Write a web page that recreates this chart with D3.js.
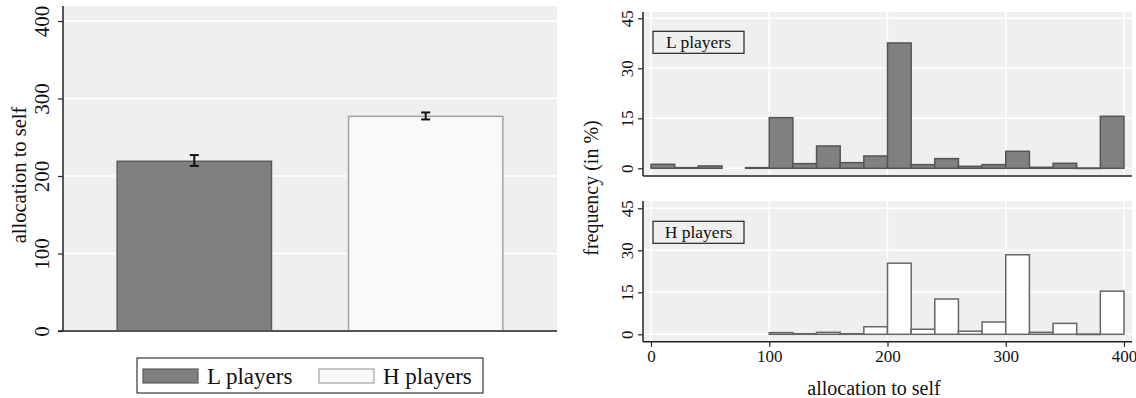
<!DOCTYPE html>
<html>
<head>
<meta charset="utf-8">
<title>Allocation to self</title>
<script src="https://cdn.jsdelivr.net/npm/d3@7"></script>
<style>
  body { margin: 0; background: #fff; }
</style>
</head>
<body>
<svg id="chart" width="1136" height="398" font-family="Liberation Serif"></svg>
<script>
// left panel: mean allocation to self with CI
var groups = ['L players', 'H players'];
var means = [219, 277];
var ciLow = [213, 273];
var ciHigh = [227, 282];
var leftTicks = [0, 100, 200, 300, 400];

// right panels: histogram of allocation to self, bins of 20
var binStarts = [0, 20, 40, 60, 80, 100, 120, 140, 160, 180, 200, 220, 240, 260, 280, 300, 320, 340, 360, 380];
var freqL = [1.2, 0.2, 0.7, null, 0.2, 15.2, 1.4, 6.7, 1.7, 3.7, 37.6, 1.1, 2.9, 0.6, 1.1, 5.1, 0.3, 1.5, 0.1, 15.6];
var freqH = [null, null, null, null, null, 0.6, 0.2, 0.7, 0.2, 2.7, 25.4, 1.8, 12.6, 1.1, 4.4, 28.4, 0.7, 3.9, 0.1, 15.4];
var freqTicks = [0, 15, 30, 45];
var allocTicks = [0, 100, 200, 300, 400];

var fills = { 'L players': '#808080', 'H players': '#f9f9f9' };
var strokes = { 'L players': '#5c5c5c', 'H players': '#a3a3a3' };

var svg = d3.select('#chart');

// ---------- left panel ----------
var L = { x0: 63, x1: 557, top: 6, base: 331 };
var x = d3.scaleBand().domain(groups).range([L.x0, L.x1]).paddingInner(0.333).paddingOuter(0.234);
var y = d3.scaleLinear().domain([0, 400]).range([L.base, 21]);

svg.append('rect').attr('x', L.x0).attr('y', L.top).attr('width', L.x1 - L.x0).attr('height', L.base - L.top)
  .attr('fill', '#efefef');

svg.append('g').selectAll('line').data(leftTicks.slice(1)).join('line')
  .attr('x1', L.x0).attr('x2', L.x1).attr('y1', d => y(d)).attr('y2', d => y(d))
  .attr('stroke', '#fff').attr('stroke-width', 1.5);

svg.append('g').selectAll('rect').data(groups).join('rect')
  .attr('x', d => x(d)).attr('width', x.bandwidth())
  .attr('y', (d, i) => y(means[i])).attr('height', (d, i) => y(0) - y(means[i]))
  .attr('fill', d => fills[d]).attr('stroke', d => strokes[d]).attr('stroke-width', 1.5);

var eb = svg.append('g').attr('stroke', '#111').attr('stroke-width', 2);
groups.forEach(function (g, i) {
  var cx = x(g) + x.bandwidth() / 2;
  eb.append('line').attr('x1', cx).attr('x2', cx).attr('y1', y(ciLow[i])).attr('y2', y(ciHigh[i]));
  eb.append('line').attr('x1', cx - 4.5).attr('x2', cx + 4.5).attr('y1', y(ciLow[i])).attr('y2', y(ciLow[i]));
  eb.append('line').attr('x1', cx - 4.5).attr('x2', cx + 4.5).attr('y1', y(ciHigh[i])).attr('y2', y(ciHigh[i]));
});

// x axis line (zero line)
svg.append('line').attr('x1', L.x0 - 5).attr('x2', L.x1).attr('y1', L.base).attr('y2', L.base)
  .attr('stroke', '#555').attr('stroke-width', 2);

var yAxisL = svg.append('g').attr('transform', 'translate(' + L.x0 + ',0)')
  .call(d3.axisLeft(y).tickValues(leftTicks).tickSize(5).tickPadding(0).tickFormat(d3.format('d')));
yAxisL.select('.domain').attr('d', 'M0,' + L.top + 'V' + L.base).attr('stroke', '#222').attr('stroke-width', 1.5);
yAxisL.selectAll('.tick line').attr('stroke', '#222').attr('stroke-width', 1.2);
yAxisL.selectAll('.tick text')
  .attr('transform', 'translate(-14,0) rotate(-90)')
  .attr('text-anchor', 'middle').attr('dy', 0).attr('x', 0).attr('y', 0)
  .attr('font-size', 21);

svg.append('text').attr('transform', 'translate(26,175) rotate(-90)')
  .attr('text-anchor', 'middle').attr('font-size', 20.5).text('allocation to self');

// legend
var lg = svg.append('g');
lg.append('rect').attr('x', 137).attr('y', 358).attr('width', 346).attr('height', 35)
  .attr('fill', '#fff').attr('stroke', '#111').attr('stroke-width', 1);
var legendX = [143, 319];
groups.forEach(function (g, i) {
  lg.append('rect').attr('x', legendX[i]).attr('y', 369).attr('width', 55).attr('height', 14)
    .attr('fill', fills[g]).attr('stroke', strokes[g]).attr('stroke-width', 1.2);
  lg.append('text').attr('x', legendX[i] + 64).attr('y', 383.5).attr('font-size', 23).text(g);
});

// ---------- right panels ----------
var R = { x0: 643, x1: 1132 };
var xa = d3.scaleLinear().domain([0, 400]).range([651, 1124]);
var panels = [
  { name: 'L players', data: freqL, top: 12, zero: 168.3, y45: 18.3, axis: 176, fill: '#808080', stroke: '#555', ticks: false },
  { name: 'H players', data: freqH, top: 201, zero: 334.3, y45: 208.3, axis: 341.7, fill: '#ffffff', stroke: '#666', ticks: true }
];

panels.forEach(function (p) {
  var yp = d3.scaleLinear().domain([0, 45]).range([p.zero, p.y45]);
  var g = svg.append('g');
  g.append('rect').attr('x', R.x0).attr('y', p.top).attr('width', R.x1 - R.x0).attr('height', p.axis - p.top)
    .attr('fill', '#efefef');
  g.append('g').selectAll('line').data(freqTicks).join('line')
    .attr('x1', R.x0).attr('x2', R.x1).attr('y1', d => yp(d)).attr('y2', d => yp(d))
    .attr('stroke', '#fff').attr('stroke-width', 1.5);
  g.append('g').selectAll('line').data(allocTicks).join('line')
    .attr('x1', d => xa(d)).attr('x2', d => xa(d)).attr('y1', p.top).attr('y2', p.axis)
    .attr('stroke', '#fff').attr('stroke-width', 1.5);

  var bins = binStarts.map((b, i) => ({ b: b, v: p.data[i] })).filter(d => d.v !== null);
  g.append('g').selectAll('rect').data(bins).join('rect')
    .attr('x', d => xa(d.b)).attr('width', d => xa(d.b + 20) - xa(d.b))
    .attr('y', d => yp(d.v)).attr('height', d => Math.max(0.5, yp(0) - yp(d.v)))
    .attr('fill', p.fill).attr('stroke', p.stroke).attr('stroke-width', 1.5);

  var ya = g.append('g').attr('transform', 'translate(' + R.x0 + ',0)')
    .call(d3.axisLeft(yp).tickValues(freqTicks).tickSize(5).tickPadding(0).tickFormat(d3.format('d')));
  ya.select('.domain').attr('d', 'M0,' + p.top + 'V' + p.axis).attr('stroke', '#222').attr('stroke-width', 1.5);
  ya.selectAll('.tick line').attr('stroke', '#222').attr('stroke-width', 1.2);
  ya.selectAll('.tick text')
    .attr('transform', 'translate(-10,0) rotate(-90)')
    .attr('text-anchor', 'middle').attr('dy', 0).attr('x', 0).attr('y', 0)
    .attr('font-size', 17);

  var xAx = g.append('g').attr('transform', 'translate(0,' + p.axis + ')')
    .call(d3.axisBottom(xa).tickValues(allocTicks).tickSize(p.ticks ? 5 : 0).tickPadding(3).tickFormat(d3.format('d')));
  xAx.select('.domain').attr('d', 'M' + R.x0 + ',0H' + R.x1).attr('stroke', '#222').attr('stroke-width', 1.5);
  xAx.selectAll('.tick line').attr('stroke', '#222').attr('stroke-width', 1.2);
  if (p.ticks) {
    xAx.selectAll('.tick text').attr('font-size', 17);
  } else {
    xAx.selectAll('.tick text').remove();
  }

  // inset label
  var boxTop = yp(45) + 13;
  g.append('rect').attr('x', 653).attr('y', boxTop).attr('width', 91).attr('height', 22)
    .attr('fill', '#efefef').attr('stroke', '#222').attr('stroke-width', 1.2);
  g.append('text').attr('x', 698.5).attr('y', boxTop + 17).attr('text-anchor', 'middle')
    .attr('font-size', 17.5).text(p.name);
});

svg.append('text').attr('transform', 'translate(598,188) rotate(-90)')
  .attr('text-anchor', 'middle').attr('font-size', 20).text('frequency (in %)');
svg.append('text').attr('x', 874).attr('y', 395).attr('text-anchor', 'middle')
  .attr('font-size', 20).text('allocation to self');

// axis groups carry their own font attributes; override them
svg.selectAll('g').attr('font-family', null).attr('font-size', null);
svg.selectAll('text').attr('font-family', 'Liberation Serif').attr('fill', '#111');
</script>
</body>
</html>
